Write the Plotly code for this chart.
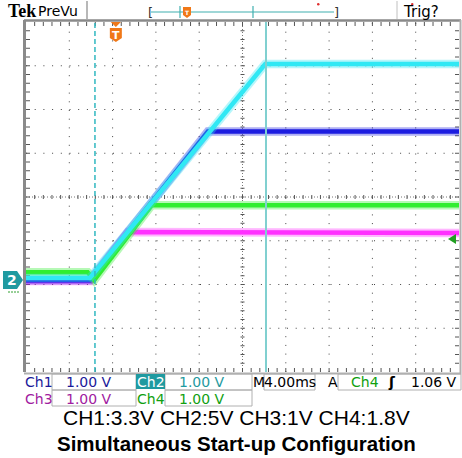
import plotly.graph_objects as go

# ---------------- data (time in ms, 4 ms/div; volts, 1 V/div) ----------------
ch1_t = [0.0, 5.9, 16.8, 40.0]
ch1_v = [0.0, 0.0, 3.40, 3.40]
ch2_t = [0.0, 5.9, 22.1, 40.0]
ch2_v = [0.05, 0.05, 4.94, 4.94]
ch3_t = [0.0, 6.0, 9.4, 40.0]
ch3_v = [-0.02, -0.02, 1.10, 1.08]
ch4_t = [0.0, 5.7, 6.3, 11.6, 40.0]
ch4_v = [0.18, 0.18, 0.0, 1.71, 1.71]
cursor_t = [6.37, 22.17]
trig_t = 8.3

status_row1 = ["Ch1", "1.00 V", "Ch2", "1.00 V", "M", "4.00ms", "A", "Ch4", "ʃ", "1.06 V"]
status_row2 = ["Ch3", "1.00 V", "Ch4", "1.00 V"]
caption1 = "CH1:3.3V CH2:5V CH3:1V CH4:1.8V"
caption2 = "Simultaneous Start-up Configuration"

W, H = 462, 458
L, R, T, B = 26, 3, 22, 86
X0, X1 = 0.0, 40.0
Y0, Y1 = -2.1, 5.9
PW, PH = W - L - R, H - T - B


def px(x):
    return (x - L) / PW


def py(y):
    return (H - B - y) / PH


fig = go.Figure()

traces = [
    (ch3_t, ch3_v, "#ff30ff"),
    (ch1_t, ch1_v, "#1c1ce0"),
    (ch4_t, ch4_v, "#30ee30"),
    (ch2_t, ch2_v, "#30e8f4"),
]
for t, v, c in traces:
    fig.add_trace(go.Scatter(x=t, y=v, mode="lines", line=dict(color=c, width=8.5),
                             opacity=0.35, hoverinfo="skip", showlegend=False))
    fig.add_trace(go.Scatter(x=t, y=v, mode="lines", line=dict(color=c, width=4.5),
                             hoverinfo="skip", showlegend=False))

shapes = []
gridc = "#444444"
dx = (X1 - X0) / 10
dy = (Y1 - Y0) / 8
for i in range(1, 10):
    x = X0 + i * dx
    if i == 5:
        continue
    shapes.append(dict(type="line", xref="x", yref="y", x0=x, x1=x, y0=Y0, y1=Y1,
                       line=dict(color=gridc, width=1, dash="1px,7.7px"), layer="below"))
for j in range(1, 8):
    y = Y0 + j * dy
    if j == 4:
        continue
    shapes.append(dict(type="line", xref="x", yref="y", x0=X0, x1=X1, y0=y, y1=y,
                       line=dict(color=gridc, width=1, dash="1px,7.7px"), layer="below"))
xc = X0 + 5 * dx
yc = Y0 + 4 * dy
shapes.append(dict(type="line", xref="x", yref="y", x0=xc, x1=xc, y0=Y0, y1=Y1,
                   line=dict(color="#777777", width=1, dash="1px,2px"), layer="below"))
shapes.append(dict(type="line", xref="x", yref="y", x0=X0, x1=X1, y0=yc, y1=yc,
                   line=dict(color="#777777", width=1, dash="1px,2px"), layer="below"))
tx = 4 / PW * (X1 - X0)
ty = 4 / PH * (Y1 - Y0)
p = []
for k in range(1, 50):
    x = X0 + k * dx / 5
    p.append(f"M{x},{Y1} L{x},{Y1 - ty}")
    p.append(f"M{x},{Y0} L{x},{Y0 + ty}")
    p.append(f"M{x},{yc - ty / 2} L{x},{yc + ty / 2}")
for k in range(1, 40):
    y = Y0 + k * dy / 5
    p.append(f"M{X0},{y} L{X0 + tx},{y}")
    p.append(f"M{X1},{y} L{X1 - tx},{y}")
    p.append(f"M{xc - tx / 2},{y} L{xc + tx / 2},{y}")
shapes.append(dict(type="path", xref="x", yref="y", path=" ".join(p),
                   line=dict(color="#555555", width=1), layer="below"))
# frame
shapes.append(dict(type="line", xref="paper", yref="paper", x0=px(24.5), x1=px(24.5), y0=py(372), y1=py(20),
                   line=dict(color="#8a8a8a", width=3)))
shapes.append(dict(type="line", xref="paper", yref="paper", x0=px(24), x1=px(461), y0=py(20.5), y1=py(20.5),
                   line=dict(color="#8a8a8a", width=2.5)))
shapes.append(dict(type="line", xref="paper", yref="paper", x0=px(460.5), x1=px(460.5), y0=py(374), y1=py(20),
                   line=dict(color="#b0b0b0", width=2)))
shapes.append(dict(type="line", xref="paper", yref="paper", x0=px(24), x1=px(461), y0=py(373.5), y1=py(373.5),
                   line=dict(color="#b0b0b0", width=2)))
# cursors
shapes.append(dict(type="line", xref="x", yref="paper", x0=cursor_t[0], x1=cursor_t[0], y0=0, y1=1,
                   line=dict(color="#30b8c0", width=1.5, dash="5px,3px")))
shapes.append(dict(type="line", xref="x", yref="paper", x0=cursor_t[1], x1=cursor_t[1], y0=0, y1=1,
                   line=dict(color="#80d0d0", width=2)))
# trigger marker (orange)
tpx = L + (trig_t - X0) / (X1 - X0) * PW
shapes.append(dict(type="path", xref="paper", yref="paper",
                   path=f"M{px(tpx-5)},{py(22)} L{px(tpx+5)},{py(22)} L{px(tpx)},{py(27)} Z",
                   fillcolor="#f07818", line=dict(width=0)))
shapes.append(dict(type="path", xref="paper", yref="paper",
                   path=(f"M{px(tpx-6)},{py(28)} L{px(tpx+6)},{py(28)} L{px(tpx+6)},{py(38)} "
                         f"L{px(tpx)},{py(42)} L{px(tpx-6)},{py(38)} Z"),
                   fillcolor="#f07818", line=dict(width=0)))
# ch2 ground marker at left
gy = 280
shapes.append(dict(type="path", xref="paper", yref="paper",
                   path=(f"M{px(3)},{py(gy-9)} L{px(17)},{py(gy-9)} L{px(23)},{py(gy)} "
                         f"L{px(17)},{py(gy+9)} L{px(3)},{py(gy+9)} Z"),
                   fillcolor="#1f9aa0", line=dict(width=0)))
shapes.append(dict(type="line", xref="paper", yref="paper", x0=px(8), x1=px(20), y0=py(gy + 12), y1=py(gy + 12),
                   line=dict(color="#30a030", width=1, dash="2px,1px")))
# ch4 trigger level marker at right
shapes.append(dict(type="path", xref="paper", yref="paper",
                   path=f"M{px(448)},{py(239)} L{px(456)},{py(234)} L{px(456)},{py(244)} Z",
                   fillcolor="#20a020", line=dict(width=0)))
# top bar
shapes.append(dict(type="line", xref="paper", yref="paper", x0=px(87), x1=px(87), y0=py(19), y1=py(1),
                   line=dict(color="#a0a0a0", width=1.5)))
shapes.append(dict(type="line", xref="paper", yref="paper", x0=px(397), x1=px(397), y0=py(19), y1=py(1),
                   line=dict(color="#c0c0c0", width=1)))
shapes.append(dict(type="line", xref="paper", yref="paper", x0=px(151), x1=px(334), y0=py(12), y1=py(12),
                   line=dict(color="#40b0b0", width=1.2)))
for xx in (180, 253):
    shapes.append(dict(type="line", xref="paper", yref="paper", x0=px(xx), x1=px(xx), y0=py(6), y1=py(18),
                       line=dict(color="#40b0b0", width=1.2)))
shapes.append(dict(type="path", xref="paper", yref="paper",
                   path=(f"M{px(183)},{py(7)} L{px(191)},{py(7)} L{px(191)},{py(15)} "
                         f"L{px(187)},{py(18)} L{px(183)},{py(15)} Z"),
                   fillcolor="#f07818", line=dict(width=0)))
# status boxes
box_c = "#b0b0b0"
for (x0, x1, y0, y1) in [(52, 136, 374, 390), (165, 252, 374, 390), (264, 315, 374, 390),
                         (338, 461, 374, 390), (52, 136, 390, 406), (165, 252, 390, 406)]:
    shapes.append(dict(type="rect", xref="paper", yref="paper", x0=px(x0), x1=px(x1), y0=py(y1), y1=py(y0),
                       line=dict(color=box_c, width=1)))
shapes.append(dict(type="rect", xref="paper", yref="paper", x0=px(136), x1=px(165), y0=py(389), y1=py(374),
                   fillcolor="#1f9aa0", line=dict(width=0)))
shapes.append(dict(type="circle", xref="paper", yref="paper", x0=px(317), x1=px(319.5), y0=py(5.5), y1=py(3),
                   fillcolor="#e03030", line=dict(width=0)))
shapes.append(dict(type="circle", xref="paper", yref="paper", x0=px(411), x1=px(413.5), y0=py(5.5), y1=py(3),
                   fillcolor="#e03030", line=dict(width=0)))

ann = []


def text(x, y, s, color="black", size=13, family="DejaVu Sans", xanchor="left", bold=False):
    ann.append(dict(xref="paper", yref="paper", x=px(x), y=py(y), text=(f"<b>{s}</b>" if bold else s),
                    showarrow=False, xanchor=xanchor, yanchor="middle",
                    font=dict(color=color, size=size, family=family)))


text(6, 11, "Tek", size=18, family="Liberation Serif", bold=True)
text(36, 11, "PreVu", size=14)
text(401, 12, "Trig?", size=15)
text(146, 12, "[", size=13, color="#333333")
text(332, 12, "]", size=13, color="#333333")
text(tpx, 35, "T", size=11, color="white", xanchor="center", bold=True)
text(187, 12, "T", size=6, color="white", xanchor="center", bold=True)
text(12, 280, "2", size=14, color="white", xanchor="center", bold=True)

blue, teal, mag, green = "#1a1a9a", "#1f9aa0", "#a020a0", "#10a010"
fs = 14
text(23, 382, status_row1[0], color=blue, size=fs)
text(89, 382, status_row1[1], color=blue, size=fs, xanchor="center")
text(150.5, 382, status_row1[2], color="white", size=fs, xanchor="center")
text(202, 382, status_row1[3], color=teal, size=fs, xanchor="center")
text(251, 382, status_row1[4], color="black", size=fs)
text(289.5, 382, status_row1[5], color="black", size=fs, xanchor="center")
text(333, 382, status_row1[6], color="black", size=fs, xanchor="center")
text(349, 382, status_row1[7], color=green, size=fs)
text(392, 382, status_row1[8], color="black", size=fs, xanchor="center", bold=True)
text(459, 382, status_row1[9], color="black", size=fs, xanchor="right")
text(23, 399, status_row2[0], color=mag, size=fs)
text(89, 399, status_row2[1], color=mag, size=fs, xanchor="center")
text(150.5, 399, status_row2[2], color=green, size=fs, xanchor="center")
text(202, 399, status_row2[3], color=green, size=fs, xanchor="center")

text(236, 417, caption1, size=21, family="Liberation Sans", xanchor="center")
text(236, 443, caption2, size=20.5, family="Liberation Sans", xanchor="center", bold=True)

fig.update_layout(
    width=W, height=H,
    margin=dict(l=L, r=R, t=T, b=B, pad=0),
    paper_bgcolor="white", plot_bgcolor="white",
    xaxis=dict(range=[X0, X1], showgrid=False, zeroline=False, showticklabels=False, ticks="",
               fixedrange=True),
    yaxis=dict(range=[Y0, Y1], showgrid=False, zeroline=False, showticklabels=False, ticks="",
               fixedrange=True),
    shapes=shapes, annotations=ann, showlegend=False,
)
fig.write_html("out.html", config={"displayModeBar": False},
               post_script="document.body.style.margin='0';document.body.style.overflow='hidden';")
